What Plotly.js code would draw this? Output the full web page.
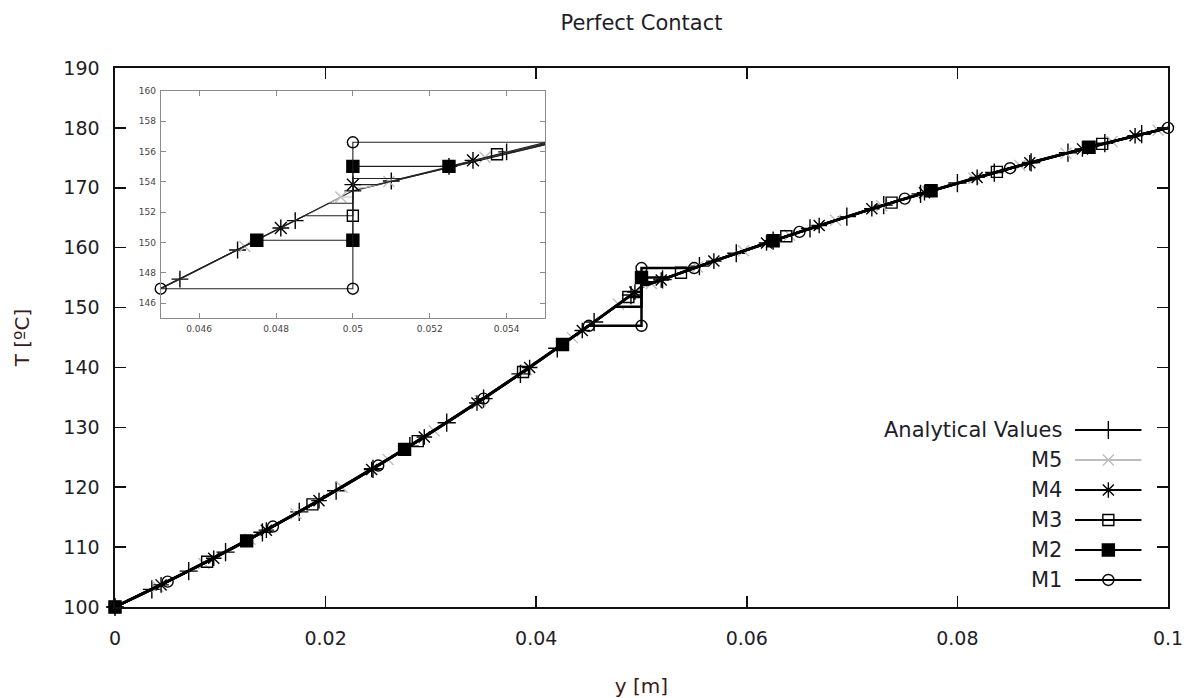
<!DOCTYPE html>
<html><head><meta charset="utf-8">
<script src="https://cdn.plot.ly/plotly-3.0.1.min.js"></script>
<style>html,body{margin:0;padding:0;background:#fff}#chart{width:1195px;height:698px}</style>
</head><body><div id="chart"></div>
<script>
// ---------- data ----------
const seriesNames = ['Analytical Values','M5','M4','M3','M2','M1'];

// Analytical values: line nodes, markers in main plot, markers in inset
const an_y = [0,0.0035,0.007,0.0105,0.014,0.0175,0.021,0.0245,0.028,0.0315,0.035,0.0385,0.042,0.0455,0.047,0.0485,0.049,0.05,0.051,0.052,0.0525,0.054,0.0555,0.059,0.0625,0.066,0.0695,0.073,0.0765,0.08,0.0835,0.087,0.0905,0.094,0.0975,0.1];
const an_T = [100,102.94,105.99,109.17,112.47,115.88,119.42,123.08,126.86,130.77,134.79,138.93,143.20,147.58,149.50,151.44,152.09,153.40,154.05,154.69,155.01,155.97,156.91,159.07,161.16,163.21,165.19,167.11,168.98,170.79,172.54,174.23,175.86,177.44,178.95,180];
const an_pts_y = [0,0.0035,0.007,0.0105,0.014,0.0175,0.021,0.0245,0.028,0.0315,0.035,0.0385,0.042,0.0455,0.049,0.052,0.0555,0.059,0.0625,0.066,0.0695,0.073,0.0765,0.08,0.0835,0.087,0.0905,0.094,0.0975];
const an_pts_T = [100,102.94,105.99,109.17,112.47,115.88,119.42,123.08,126.86,130.77,134.79,138.93,143.20,147.58,152.09,154.69,156.91,159.07,161.16,163.21,165.19,167.11,168.98,170.79,172.54,174.23,175.86,177.44,178.95];
const an_ins_y = [0.0455,0.047,0.0485,0.05,0.051,0.0525,0.054];
const an_ins_T = [147.58,149.50,151.44,153.40,154.05,155.01,155.97];

// M5
const m5_y = [0,0.0040625,0.0084375,0.0128125,0.0171875,0.0215625,0.0259375,0.0303125,0.0346875,0.0390625,0.0434375,0.0471875,0.0478125,0.0496875,0.05,0.05,0.0503125,0.0509375,0.0534375,0.0553125,0.0596875,0.0640625,0.0684375,0.0728125,0.0771875,0.0815625,0.0859375,0.0903125,0.0946875,0.0990625,0.1];
const m5_T = [100,103.42,107.28,111.33,115.57,120.00,124.62,129.43,134.42,139.61,144.98,149.74,150.55,152.99,152.99,153.60,153.60,154.01,155.61,156.79,159.48,162.08,164.59,167.01,169.34,171.58,173.72,175.77,177.74,179.61,180];
const m5_pts_y = [0,0.0040625,0.0084375,0.0128125,0.0171875,0.0215625,0.0259375,0.0303125,0.0346875,0.0390625,0.0434375,0.0478125,0.0509375,0.0553125,0.0596875,0.0640625,0.0684375,0.0728125,0.0771875,0.0815625,0.0859375,0.0903125,0.0946875,0.0990625];
const m5_pts_T = [100,103.42,107.28,111.33,115.57,120.00,124.62,129.43,134.42,139.61,144.98,150.55,154.01,156.79,159.48,162.08,164.59,167.01,169.34,171.58,173.72,175.77,177.74,179.61];
const m5_ins_y = [0.0471875,0.0496875,0.0509375,0.0534375];
const m5_ins_T = [149.74,152.99,154.01,155.61];

// M4
const m4_y = [0,0.004375,0.009375,0.014375,0.019375,0.024375,0.029375,0.034375,0.039375,0.044375,0.048125,0.049375,0.05,0.05,0.050625,0.051875,0.053125,0.056875,0.061875,0.066875,0.071875,0.076875,0.081875,0.086875,0.091875,0.096875,0.1];
const m4_T = [100,103.69,108.13,112.83,117.76,122.95,128.38,134.06,139.99,146.16,150.95,152.58,152.58,153.81,153.81,154.61,155.41,157.76,160.79,163.71,166.50,169.18,171.73,174.17,176.49,178.69,180];
const m4_pts_y = [0,0.004375,0.009375,0.014375,0.019375,0.024375,0.029375,0.034375,0.039375,0.044375,0.049375,0.051875,0.056875,0.061875,0.066875,0.071875,0.076875,0.081875,0.086875,0.091875,0.096875];
const m4_pts_T = [100,103.69,108.13,112.83,117.76,122.95,128.38,134.06,139.99,146.16,152.58,154.61,157.76,160.79,163.71,166.50,169.18,171.73,174.17,176.49,178.69];
const m4_ins_y = [0.048125,0.05,0.053125];
const m4_ins_T = [150.95,153.81,155.41];

// M3
const m3_y = [0,0.00875,0.01875,0.02875,0.03875,0.04375,0.04625,0.04875,0.05,0.05,0.05125,0.05375,0.05625,0.06375,0.07375,0.08375,0.09375,0.1];
const m3_T = [100,107.56,117.13,127.69,139.23,145.37,148.54,151.76,151.76,154.21,154.21,155.81,157.38,161.90,167.52,172.66,177.33,180];
const m3_pts_y = [0,0.00875,0.01875,0.02875,0.03875,0.04875,0.05375,0.06375,0.07375,0.08375,0.09375];
const m3_pts_T = [100,107.56,117.13,127.69,139.23,151.76,155.81,161.90,167.52,172.66,177.33];
const m3_ins_y = [0.05,0.05375];
const m3_ins_T = [151.76,155.81];

// M2
const m2_y = [0,0.0025,0.0075,0.0125,0.0175,0.0225,0.0275,0.0325,0.0375,0.0425,0.0475,0.05,0.05,0.0525,0.0575,0.0625,0.0675,0.0725,0.0775,0.0825,0.0875,0.0925,0.0975,0.1];
const m2_T = [100,102.08,106.44,111.04,115.88,120.98,126.32,131.90,137.74,143.82,150.14,150.14,155.01,155.01,158.15,161.16,164.06,166.84,169.50,172.04,174.47,176.77,178.95,180];
const m2_pts_y = [0,0.0125,0.0275,0.0425,0.05,0.0625,0.0775,0.0925];
const m2_pts_T = [100,111.04,126.32,143.82,155.01,161.16,169.50,176.77];
const m2_ins_y = [0.0475,0.05,0.05,0.0525];
const m2_ins_T = [150.14,150.14,155.01,155.01];

// M1
const m1_y = [0,0.005,0.015,0.025,0.035,0.045,0.05,0.05,0.055,0.065,0.075,0.085,0.095,0.1];
const m1_T = [100,104.23,113.43,123.62,134.79,146.95,146.95,156.60,156.60,162.63,168.19,173.27,177.88,180];
const m1_pts_y = [0,0.005,0.015,0.025,0.035,0.045,0.05,0.05,0.055,0.065,0.075,0.085,0.1];
const m1_pts_T = [100,104.23,113.43,123.62,134.79,146.95,146.95,156.60,156.60,162.63,168.19,173.27,180];
const m1_ins_y = [0.045,0.05,0.05];
const m1_ins_T = [146.95,146.95,156.60];

// ticks
const xTickVals = [0,0.02,0.04,0.06,0.08,0.1];
const xTickText = ['0','0.02','0.04','0.06','0.08','0.1'];
const yTickVals = [100,110,120,130,140,150,160,170,180,190];
const insXTickVals = [0.046,0.048,0.05,0.052,0.054];
const insXTickText = ['0.046','0.048','0.05','0.052','0.054'];
const insYTickVals = [146,148,150,152,154,156,158,160];

// ---------- styling ----------
const FONT = 'DejaVu Sans, Verdana, sans-serif';
const TXT = '#1e1e28';
const GREY = '#bdbdbd';
const series = [
  {name:seriesNames[0], line:[an_y,an_T], pts:[an_pts_y,an_pts_T], ins:[an_ins_y,an_ins_T], sym:'cross-thin-open', col:'#000', size:13, isize:12},
  {name:seriesNames[1], line:[m5_y,m5_T], pts:[m5_pts_y,m5_pts_T], ins:[m5_ins_y,m5_ins_T], sym:'x-thin-open', col:GREY, size:11, isize:11},
  {name:seriesNames[2], line:[m4_y,m4_T], pts:[m4_pts_y,m4_pts_T], ins:[m4_ins_y,m4_ins_T], sym:'asterisk-open', col:'#000', size:13, isize:14},
  {name:seriesNames[3], line:[m3_y,m3_T], pts:[m3_pts_y,m3_pts_T], ins:[m3_ins_y,m3_ins_T], sym:'square-open', col:'#000', size:11, isize:11},
  {name:seriesNames[4], line:[m2_y,m2_T], pts:[m2_pts_y,m2_pts_T], ins:[m2_ins_y,m2_ins_T], sym:'square', col:'#000', size:12, isize:12},
  {name:seriesNames[5], line:[m1_y,m1_T], pts:[m1_pts_y,m1_pts_T], ins:[m1_ins_y,m1_ins_T], sym:'circle-open', col:'#000', size:11, isize:11}
];

const traces = [];
const annotations = [];
series.forEach((s, i) => {
  const mk = (sz) => ({symbol:s.sym, size:sz, color:s.col, line:{color:s.col, width:1.4}});
  // main plot
  traces.push({x:s.line[0], y:s.line[1], xaxis:'x', yaxis:'y', mode:'lines', name:s.name,
    line:{color:s.col, width:2.5}, showlegend:false, hoverinfo:'skip'});
  traces.push({x:s.pts[0], y:s.pts[1], xaxis:'x', yaxis:'y', mode:'markers', name:s.name,
    marker:mk(s.size), showlegend:false, cliponaxis:false});
  // inset
  traces.push({x:s.line[0], y:s.line[1], xaxis:'x2', yaxis:'y2', mode:'lines', name:s.name,
    line:{color:s.col === '#000' ? '#222' : s.col, width:1.1}, showlegend:false, hoverinfo:'skip'});
  traces.push({x:s.ins[0], y:s.ins[1], xaxis:'x2', yaxis:'y2', mode:'markers', name:s.name,
    marker:mk(s.isize), showlegend:false, cliponaxis:false});
  // legend sample (gnuplot style: text left, sample right)
  traces.push({x:[0,1], y:[i,i], xaxis:'x3', yaxis:'y3', mode:'lines', name:s.name,
    line:{color:s.col, width:2}, showlegend:false, hoverinfo:'skip'});
  traces.push({x:[0.5], y:[i], xaxis:'x3', yaxis:'y3', mode:'markers', name:s.name,
    marker:mk(s.size), showlegend:false, hoverinfo:'skip', cliponaxis:false});
  annotations.push({xref:'x3', yref:'y3', x:0, y:i, xanchor:'right', yanchor:'middle',
    xshift:-11, text:s.name, showarrow:false, font:{family:FONT, size:21, color:TXT}});
});

const mainAxis = {showline:true, linecolor:'#111', linewidth:1.6, mirror:'ticks', ticks:'inside',
  ticklen:11, tickwidth:1.6, tickcolor:'#111', showgrid:false, zeroline:false, automargin:false,
  tickfont:{family:FONT, size:19, color:TXT}};
const insAxis = {showline:true, linecolor:'#8a8a8a', linewidth:1, mirror:'ticks', ticks:'inside',
  ticklen:5, tickwidth:1, tickcolor:'#8a8a8a', showgrid:false, zeroline:false, automargin:false,
  tickfont:{family:FONT, size:9, color:'#444'}};
const hidden = {visible:false, showgrid:false, zeroline:false, fixedrange:true};

const layout = {
  width:1195, height:698,
  margin:{l:115, r:27, t:68, b:91},
  paper_bgcolor:'#fff', plot_bgcolor:'#fff',
  showlegend:false,
  title:{text:'Perfect Contact', font:{family:FONT, size:21, color:TXT},
    x:0.5, xref:'paper', xanchor:'center', y:1-23/698, yref:'container', yanchor:'middle'},
  xaxis:Object.assign({}, mainAxis, {domain:[0,1], range:[0,0.1], tickvals:xTickVals, ticktext:xTickText,
    ticklabelstandoff:14,
    title:{text:'y [m]', font:{family:FONT, size:20, color:'#3a1a1a'}, standoff:30}}),
  yaxis:Object.assign({}, mainAxis, {domain:[0,1], range:[100,190], tickvals:yTickVals,
    ticklabelstandoff:10,
    title:{text:'T [ºC]', font:{family:FONT, size:20, color:'#3a1a1a'}, standoff:28}}),
  xaxis2:Object.assign({}, insAxis, {anchor:'y2', domain:[0.0434,0.4084], range:[0.045,0.055],
    tickvals:insXTickVals, ticktext:insXTickText, ticklabelstandoff:2}),
  yaxis2:Object.assign({}, insAxis, {anchor:'x2', domain:[0.5356,0.9579], range:[145,160],
    tickvals:insYTickVals, ticklabelstandoff:2}),
  xaxis3:Object.assign({}, hidden, {anchor:'y3', domain:[0.9117,0.975], range:[0,1]}),
  yaxis3:Object.assign({}, hidden, {anchor:'x3', domain:[0.0223,0.3562], range:[5.5,-0.5]}),
  annotations:annotations
};

Plotly.newPlot('chart', traces, layout, {displayModeBar:false, staticPlot:true});
</script></body></html>
